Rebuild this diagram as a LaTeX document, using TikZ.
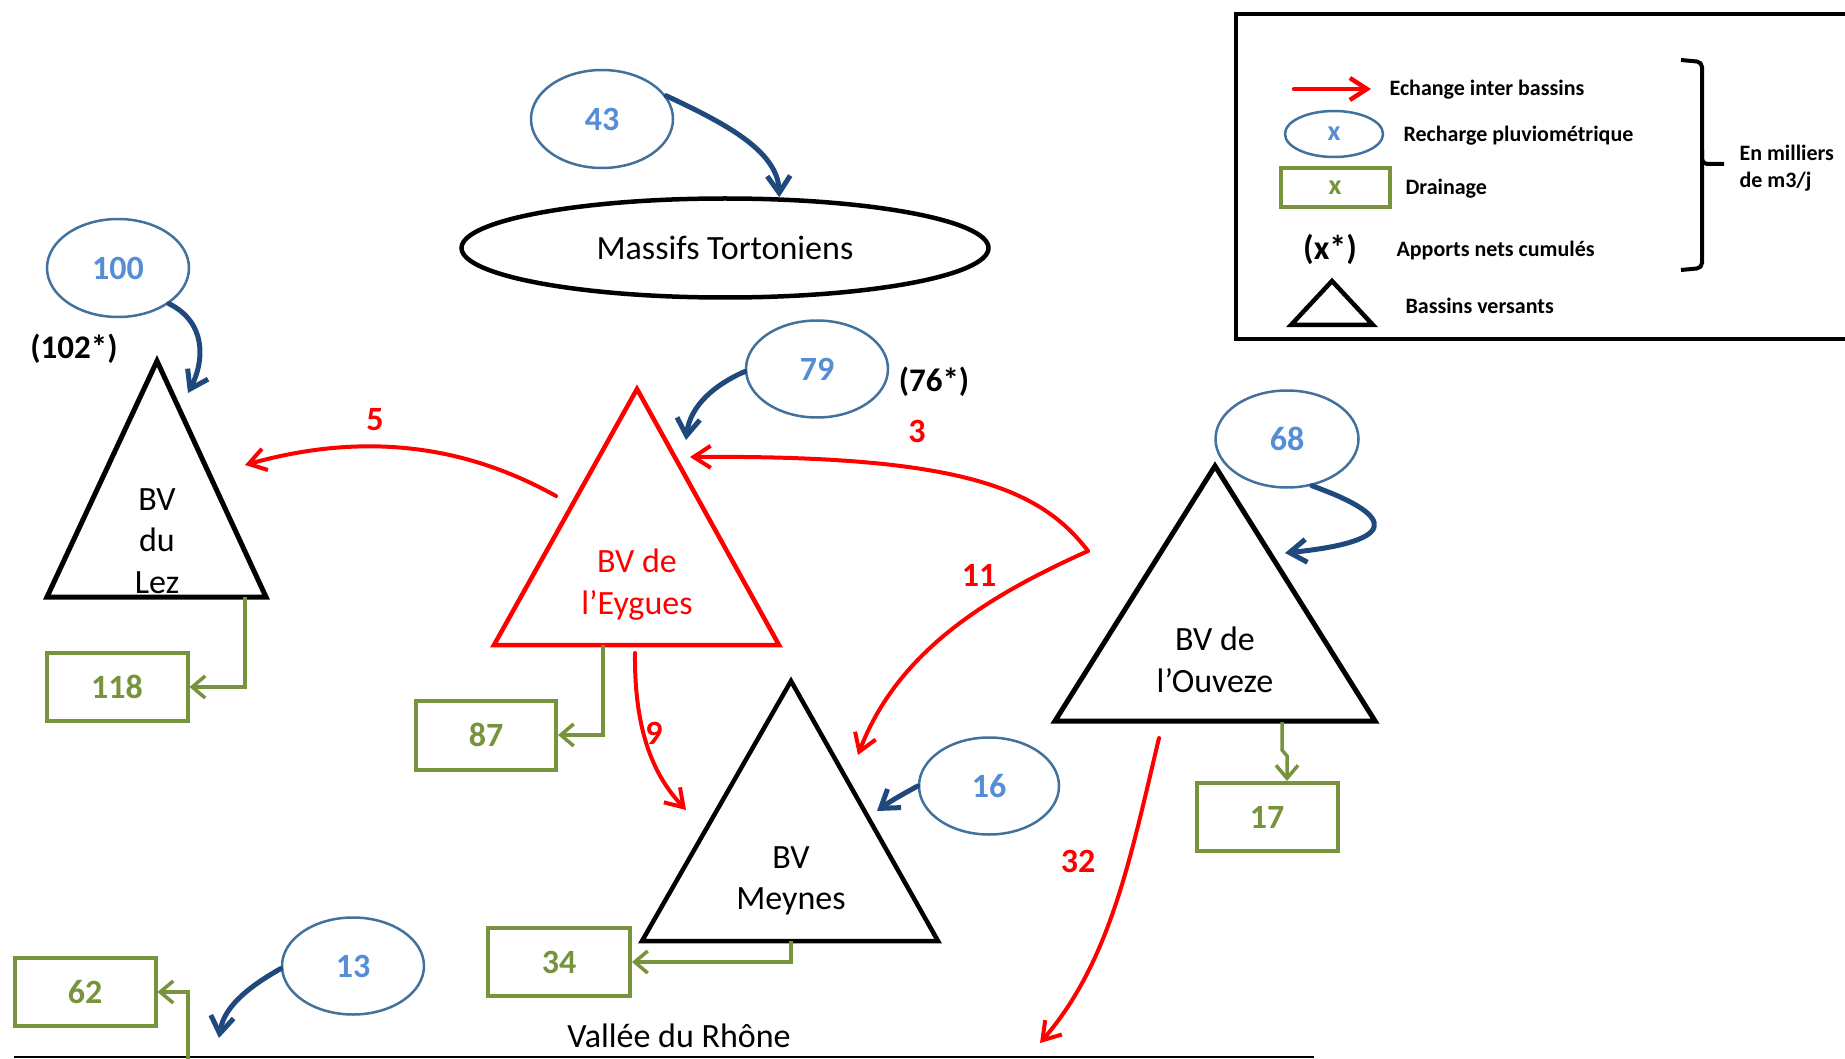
\documentclass[tikz,border=0pt]{standalone}
\usepackage{fontspec}
\setmainfont{Carlito}
\usetikzlibrary{arrows.meta,shapes.geometric}
\definecolor{rainTxt}{HTML}{558ED5}
\definecolor{rainEdge}{HTML}{41719C}
\definecolor{infilBlue}{HTML}{1F497D}
\definecolor{drainGreen}{HTML}{77933C}
\definecolor{flowRed}{HTML}{FF0000}
\newcommand{\bigtxt}{\fontsize{34}{40}\selectfont}
\newcommand{\legtxt}{\bfseries\fontsize{22}{27}\selectfont}
\begin{document}
\begin{tikzpicture}[x=1pt,y=-1pt,
  recharge/.style={ellipse, draw=rainEdge, line width=2.5pt, inner sep=0pt,
    minimum width=142pt, minimum height=97pt, text=rainTxt, font=\bfseries\bigtxt},
  drainbox/.style={rectangle, draw=drainGreen, line width=4pt, inner sep=0pt,
    minimum width=141pt, minimum height=68pt, text=drainGreen, font=\bfseries\bigtxt},
  basin/.style={draw=black, line width=5pt, line join=miter},
  basintxt/.style={align=center, font=\bigtxt},
  flow/.style={draw=flowRed, line width=4pt, line cap=round,
    -{Straight Barb[length=17pt,width=22pt]}},
  infil/.style={draw=infilBlue, line width=5pt, line cap=round,
    -{Straight Barb[length=17pt,width=23pt]}},
  drainline/.style={draw=drainGreen, line width=3.5pt,
    -{Straight Barb[length=13pt,width=22pt]}},
  flowlbl/.style={text=flowRed, font=\bfseries\bigtxt},
  cumul/.style={text=black, font=\bfseries\fontsize{33}{38}\selectfont},
  legend/.style={anchor=west, font=\legtxt}
]
\useasboundingbox (0,0) rectangle (1845,1059);

% ---------- legend ----------
\draw[line width=4pt] (1236,14) rectangle (1860,339);
\coordinate (lgA) at (1294,89);
\coordinate (lgB) at (1371,89);
\draw[flow, line width=4.5pt] (lgA) -- (lgB);
\node[legend] (lg1) at (1386,90) {Echange inter bassins};
\node[ellipse, draw=rainEdge, line width=2.5pt, inner sep=0pt, minimum width=98pt,
  minimum height=46pt, text=rainTxt, font=\bfseries\fontsize{28}{30}\selectfont] (lgE) at (1334,134) {x};
\node[legend] (lg2) at (1400,136) {Recharge pluviométrique};
\node[rectangle, draw=drainGreen, line width=4pt, inner sep=0pt, minimum width=109pt,
  minimum height=39pt, text=drainGreen, font=\bfseries\fontsize{28}{30}\selectfont] (lgR) at (1335,188) {x};
\node[legend] (lg3) at (1402,189) {Drainage};
\node[font=\bfseries\fontsize{34}{38}\selectfont] (lgX) at (1330,249) {(x*)};
\node[legend] (lg4) at (1393,251) {Apports nets cumulés};
\draw[basin, line width=4.5pt] (1291,325) -- (1332,281) -- (1373,325) -- cycle;
\node[legend] (lg5) at (1402,306) {Bassins versants};
\draw[line width=4pt, rounded corners=5pt] (1681,60) -- (1702,62) -- (1702,164) -- (1724,164);
\draw[line width=4pt, rounded corners=5pt] (1702,150) -- (1702,268) -- (1681,270);
\node[anchor=west, align=left, font=\legtxt] (lgU) at (1736,168) {En milliers\\de m3/j};

% ---------- massifs ----------
\node[ellipse, draw=black, line width=4.5pt, inner sep=0pt, minimum width=527pt,
  minimum height=99pt, font=\bigtxt] (massifs) at (725,248) {Massifs Tortoniens};
\node[recharge, minimum height=98pt] (e43) at (602,119) {43};
\draw[infil] (e43.20) .. controls (722,122) and (778,150) .. (massifs.43);

% ---------- BV du Lez ----------
\coordinate (lezT) at (157,361);
\coordinate (lezL) at (47,597);
\coordinate (lezR) at (266,597);
\draw[basin] (lezL) -- (lezT) -- (lezR) -- cycle;
\node[basintxt, font=\fontsize{34}{41.5}\selectfont] (lez) at (157,541) {BV\\du\\Lez};
\node[recharge, minimum height=98pt] (e100) at (118,268) {100};
\node[cumul] (c102) at (74,349) {(102*)};
\coordinate (lezIn) at (188,393);
\draw[infil] (e100.-35) .. controls (206,322) and (205,360) .. (lezIn);
\node[drainbox] (b118) at (117,687) {118};
\coordinate (lezOut) at (245,597);
\draw[drainline] (lezOut) |- (b118.east);

% ---------- BV de l'Eygues ----------
\coordinate (eyT) at (637,389);
\coordinate (eyL) at (494,645);
\coordinate (eyR) at (779,645);
\draw[basin, draw=flowRed, line width=4.5pt] (eyL) -- (eyT) -- (eyR) -- cycle;
\node[basintxt, text=flowRed, font=\fontsize{34}{42}\selectfont] (ey) at (637,585) {BV de\\l’Eygues};
\node[recharge] (e79) at (817,369) {79};
\node[cumul] (c76) at (934,382) {(76*)};
\coordinate (eyIn) at (686,440);
\draw[infil] (e79.182) .. controls (716,384) and (690,405) .. (eyIn);
\node[drainbox, minimum width=140pt, minimum height=69pt] (b87) at (486,735) {87};
\coordinate (eyOut) at (603,645);
\draw[drainline] (eyOut) |- (b87.east);

% ---------- BV Meynes ----------
\coordinate (meT) at (791,681);
\coordinate (meL) at (642,941);
\coordinate (meR) at (938,941);
\draw[basin, line width=4.5pt] (meL) -- (meT) -- (meR) -- cycle;
\node[basintxt, font=\fontsize{34}{41}\selectfont] (me) at (791,881) {BV\\Meynes};
\node[recharge, minimum width=140pt] (e16) at (989,786) {16};
\coordinate (meIn) at (877,811);
\draw[infil] (e16.180) .. controls (905,793) and (892,800) .. (meIn);
\node[drainbox, minimum width=142pt] (b34) at (559,962) {34};
\coordinate (meOut) at (791,941);
\draw[drainline] (meOut) |- (b34.east);

% ---------- BV de l'Ouveze ----------
\coordinate (ouT) at (1215,466);
\coordinate (ouL) at (1055,721);
\coordinate (ouR) at (1375,721);
\draw[basin] (ouL) -- (ouT) -- (ouR) -- cycle;
\node[basintxt, font=\fontsize{34}{42}\selectfont] (ou) at (1215,660) {BV de\\l’Ouveze};
\node[recharge, minimum width=143pt] (e68) at (1287,439) {68};
\coordinate (ouIn) at (1285,553);
\draw[infil] (e68.-62) .. controls (1402,518) and (1394,542) .. (ouIn);
\node[drainbox] (b17) at (1267,817) {17};
\coordinate (ouOut) at (1282,722);
\coordinate (ouJog) at (1287,756);
\draw[drainline] (ouOut) -- (1282,750) -- (ouJog) -- (ouJog |- b17.north);

% ---------- Vallée du Rhône ----------
\coordinate (rhL) at (14,1057);
\coordinate (rhR) at (1314,1057);
\draw[line width=2pt] (rhL) -- (rhR);
\node[font=\bigtxt] (rhone) at (679,1036) {Vallée du Rhône};
\node[recharge] (e13) at (353,966) {13};
\coordinate (rhIn) at (219,1038);
\draw[infil] (e13.182) .. controls (252,985) and (224,1005) .. (rhIn);
\node[drainbox] (b62) at (85,992) {62};
\coordinate (rhOut) at (188,1059);
\draw[drainline] (rhOut) |- (b62.east);

% ---------- exchanges between basins ----------
\coordinate (eyW) at (556,496);
\coordinate (lezE) at (245,465);
\draw[flow] (eyW) .. controls (470,448) and (370,430) .. (lezE);
\node[flowlbl] (l5) at (375,420) {5};

\coordinate (ouW) at (1088,551);
\coordinate (eyE) at (690,457);
\draw[flow] (ouW) .. controls (1040,488) and (960,455) .. (eyE);
\node[flowlbl] (l3) at (917,431) {3};

\coordinate (meE) at (858,755);
\draw[flow] (ouW) .. controls (990,595) and (898,650) .. (meE);
\node[flowlbl] (l11) at (979,575) {11};

\coordinate (eyS) at (635,653);
\coordinate (meW) at (686,810);
\draw[flow] (eyS) .. controls (634,742) and (660,782) .. (meW);
\node[flowlbl] (l9) at (654,733) {9};

\coordinate (ouS) at (1159,738);
\coordinate (rhN) at (1040,1043);
\draw[flow] (ouS) .. controls (1130,860) and (1110,962) .. (rhN);
\node[flowlbl] (l32) at (1078,861) {32};
\end{tikzpicture}
\end{document}
